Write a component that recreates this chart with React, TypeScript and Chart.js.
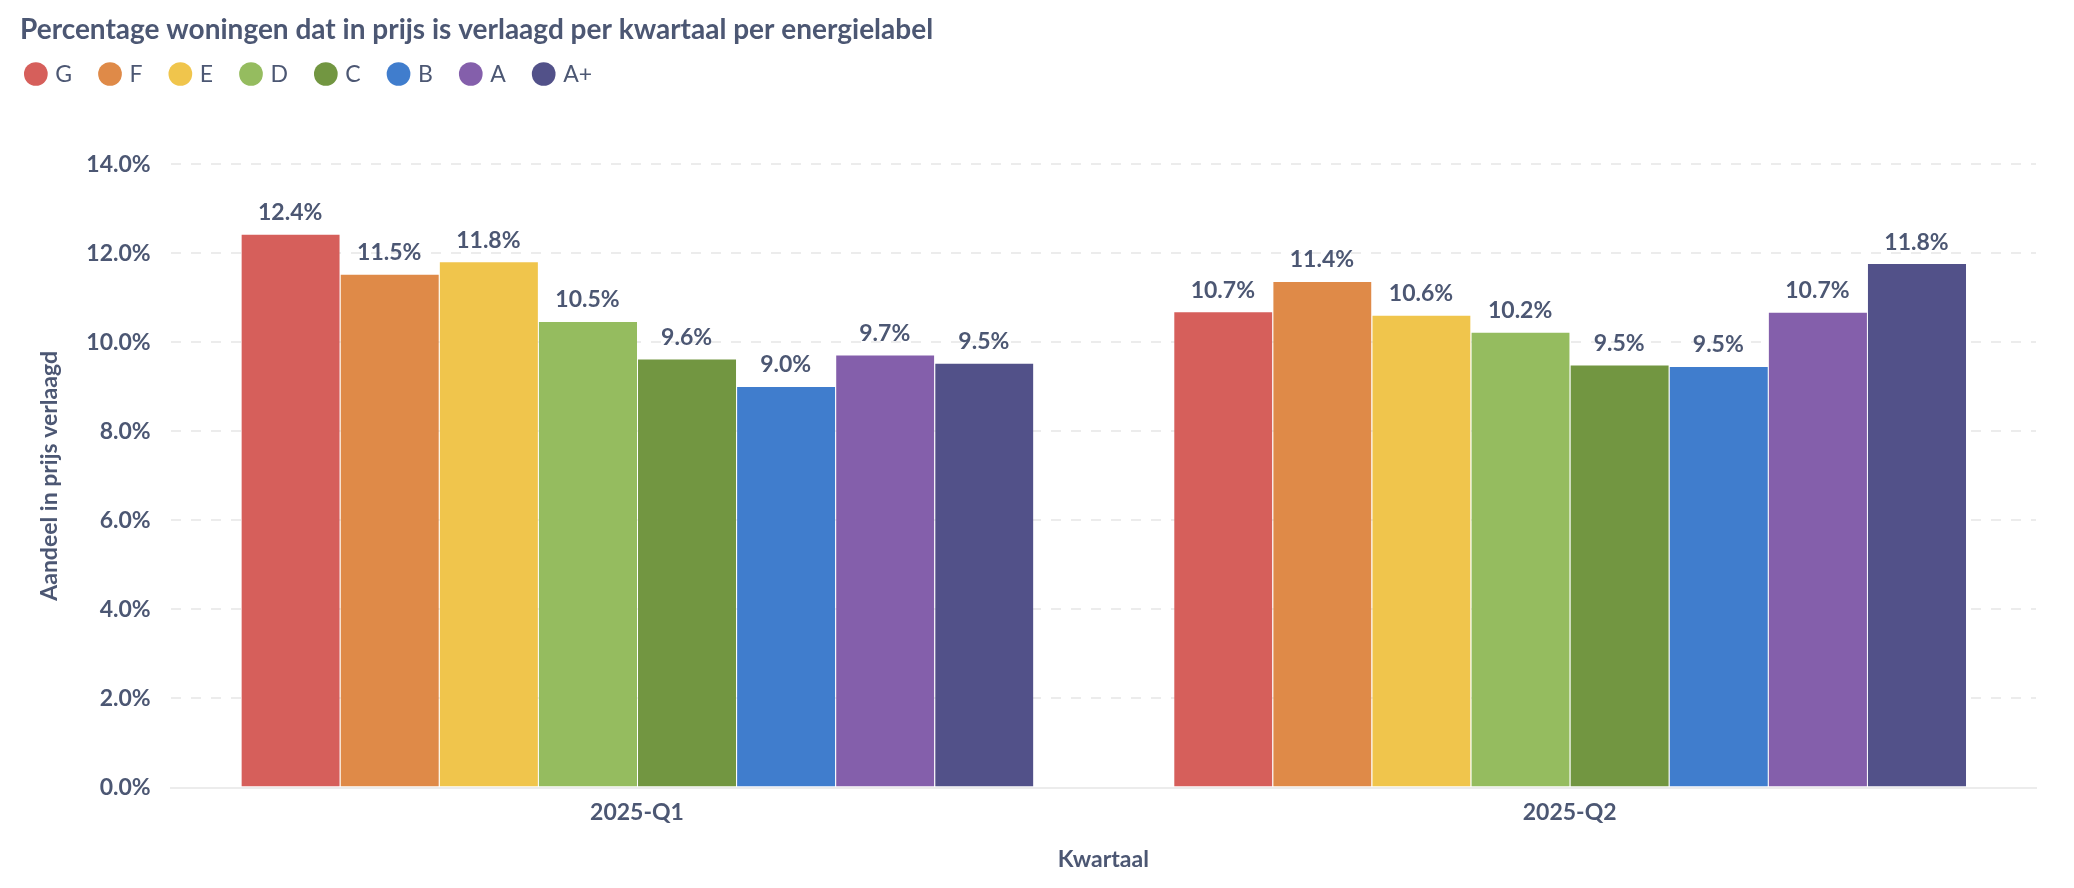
import React, { useEffect, useRef } from 'react';
import { Chart, registerables } from 'chart.js';

Chart.register(...registerables);

const TITLE = 'Percentage woningen dat in prijs is verlaagd per kwartaal per energielabel';
const X_TITLE = 'Kwartaal';
const Y_TITLE = 'Aandeel in prijs verlaagd';
const QUARTERS = ['2025-Q1', '2025-Q2'];
const ENERGY_LABELS = ['G', 'F', 'E', 'D', 'C', 'B', 'A', 'A+'];
const LABEL_COLORS = ['#d65f5b', '#df8a48', '#f0c54c', '#95bc5f', '#729641', '#407dcd', '#845fab', '#525189'];
const VALUES_Q1 = [12.44, 11.54, 11.82, 10.48, 9.64, 9.02, 9.73, 9.54];
const VALUES_Q2 = [10.7, 11.38, 10.62, 10.24, 9.5, 9.47, 10.69, 11.78];
const Y_MIN = 0;
const Y_MAX = 14;
const Y_STEP = 2;

const TEXT = '#4c5773';
const GRID = '#ececec';
const FONT = 'Lato';

const formatPct = (v: number) => `${Number(v).toFixed(1)}%`;

const legendPlugin = {
  id: 'customLegend',
  afterDraw(chart: any) {
    const ctx = chart.ctx;
    ctx.save();
    ctx.font = `400 23px ${FONT}`;
    ctx.textAlign = 'left';
    ctx.textBaseline = 'alphabetic';
    const r = 11.85;
    const cy = 74;
    let x = 24;
    chart.data.datasets.forEach((ds: any) => {
      ctx.fillStyle = ds.backgroundColor;
      ctx.beginPath();
      ctx.arc(x + r, cy, r, 0, Math.PI * 2);
      ctx.fill();
      const tx = x + r + 19.5;
      ctx.fillStyle = TEXT;
      ctx.fillText(ds.label, tx, 82.3);
      x = tx + ctx.measureText(ds.label).width + 26;
    });
    ctx.restore();
  },
};

const valueLabelPlugin = {
  id: 'valueLabels',
  afterDatasetsDraw(chart: any) {
    const ctx = chart.ctx;
    ctx.save();
    ctx.font = `700 23px ${FONT}`;
    ctx.textAlign = 'center';
    ctx.textBaseline = 'alphabetic';
    ctx.fillStyle = TEXT;
    chart.data.datasets.forEach((ds: any, i: number) => {
      const meta = chart.getDatasetMeta(i);
      meta.data.forEach((bar: any, j: number) => {
        ctx.fillText(formatPct(ds.data[j]), bar.x, bar.y - 13.5);
      });
    });
    ctx.restore();
  },
};

export default function App() {
  const canvasRef = useRef<HTMLCanvasElement | null>(null);

  useEffect(() => {
    const canvas = canvasRef.current;
    if (!canvas) return;
    const datasets = ENERGY_LABELS.map((label, i) => ({
      label,
      data: [VALUES_Q1[i], VALUES_Q2[i]],
      backgroundColor: LABEL_COLORS[i],
      borderColor: 'rgba(255,255,255,0.3)',
      borderWidth: { left: 1, top: 1, right: 0, bottom: 0 },
      borderSkipped: 'start' as const,
      categoryPercentage: 0.85,
      barPercentage: 1.0,
    }));

    const chart = new Chart(canvas, {
      type: 'bar',
      data: { labels: QUARTERS, datasets },
      plugins: [legendPlugin, valueLabelPlugin],
      options: {
        responsive: true,
        maintainAspectRatio: false,
        animation: false,
        layout: { padding: { left: 20, right: 38, top: 0, bottom: 0 } },
        plugins: {
          legend: { display: false },
          tooltip: { enabled: false },
          title: {
            display: true,
            text: TITLE,
            align: 'start',
            color: TEXT,
            font: { family: FONT, size: 28, weight: 700 as any, lineHeight: 1.2 },
            padding: { top: 13.5, bottom: 117.2 },
          },
        },
        scales: {
          x: {
            grid: { display: false, drawTicks: false },
            border: { display: true, color: GRID, width: 2 },
            ticks: {
              color: TEXT,
              padding: 11.3,
              font: { family: FONT, size: 23, weight: 700 as any },
            },
            title: {
              display: true,
              text: X_TITLE,
              color: TEXT,
              font: { family: FONT, size: 23, weight: 700 as any },
              padding: { top: 0, bottom: 14.3 },
            },
            afterFit: (s: any) => {
              s.height = 100.5;
            },
          },
          y: {
            min: Y_MIN,
            max: Y_MAX,
            grid: { color: GRID, lineWidth: 2, drawTicks: false },
            border: { display: false, dash: [10, 10] },
            ticks: {
              stepSize: Y_STEP,
              color: TEXT,
              padding: 20,
              font: { family: FONT, size: 23, weight: 700 as any },
              callback: (v: any) => formatPct(v),
            },
            title: {
              display: true,
              text: Y_TITLE,
              color: TEXT,
              font: { family: FONT, size: 23, weight: 700 as any },
              padding: { top: 16.1, bottom: 0 },
            },
            afterFit: (s: any) => {
              s.width = 150.7;
            },
          },
        },
      } as any,
    });
    return () => chart.destroy();
  }, []);

  return (
    <div style={{ position: 'fixed', left: 0, top: 0, width: 2074, height: 888, background: '#fff' }}>
      <canvas ref={canvasRef} />
    </div>
  );
}
